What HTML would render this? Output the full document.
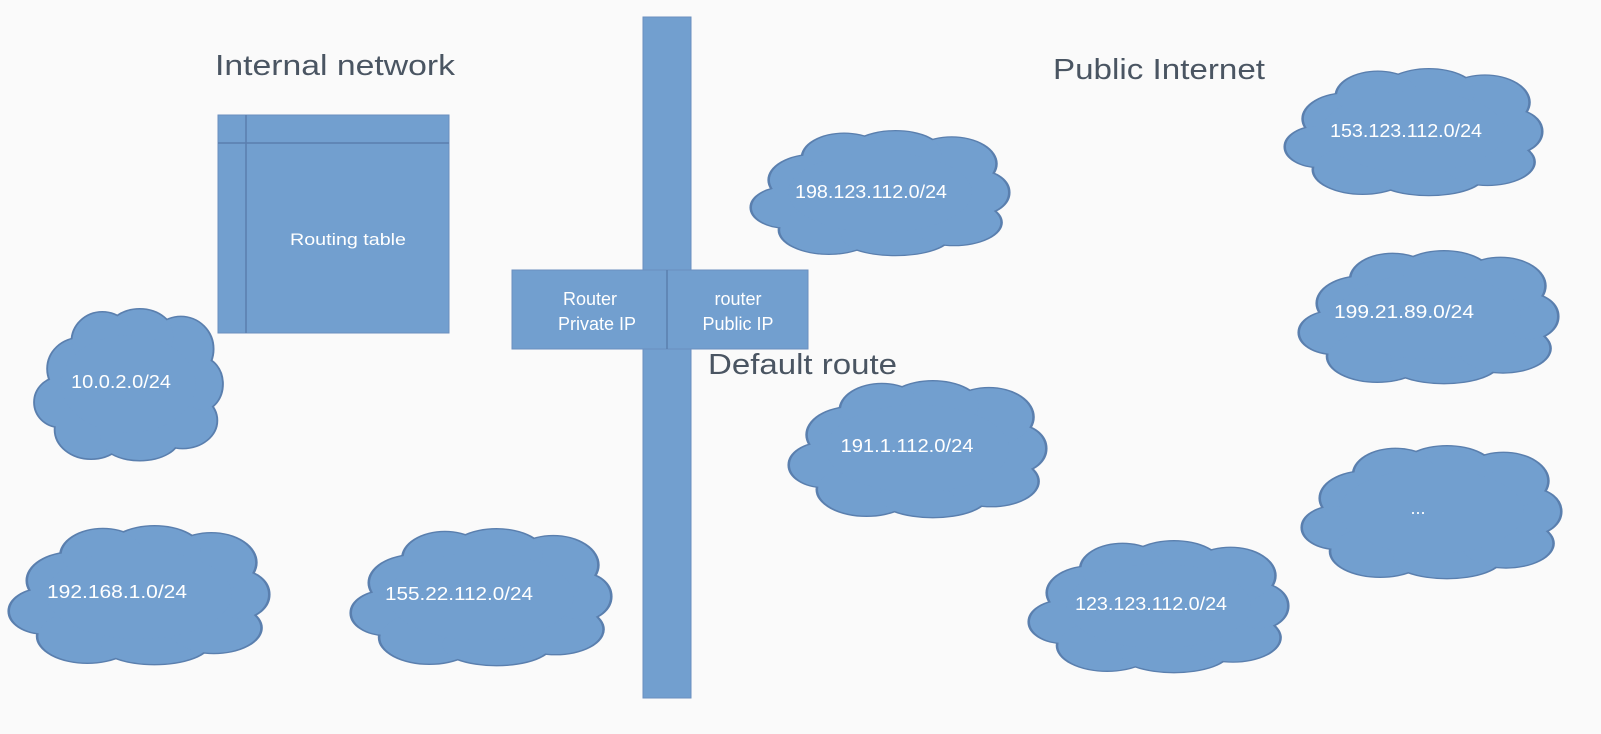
<!DOCTYPE html>
<html><head><meta charset="utf-8"><style>
html,body{margin:0;padding:0;background:#fafafa;}
svg{display:block;}
text{font-family:"Liberation Sans",sans-serif;}
</style></head><body>
<svg width="1601" height="734" viewBox="0 0 1601 734" xmlns="http://www.w3.org/2000/svg">
<defs>
<g id="cs">
<ellipse cx="24" cy="40" rx="17" ry="20"/>
<ellipse cx="13" cy="62" rx="13" ry="16"/>
<ellipse cx="30" cy="80" rx="19" ry="19"/>
<ellipse cx="56" cy="85" rx="21" ry="15"/>
<ellipse cx="79" cy="74" rx="18" ry="18"/>
<ellipse cx="89" cy="50" rx="11" ry="17"/>
<ellipse cx="78" cy="27" rx="17" ry="21"/>
<ellipse cx="56" cy="19" rx="18" ry="18"/>
<ellipse cx="36" cy="22" rx="16" ry="19"/>
<ellipse cx="50" cy="50" rx="36" ry="32"/>
</g>
<g id="cloud">
<use href="#cs" fill="none" stroke="#5a7fae" stroke-width="2" vector-effect="non-scaling-stroke"/>
<use href="#cs" fill="#729fcf" stroke="none"/>
</g>
</defs>
<rect width="1601" height="734" fill="#fafafa"/>
<text x="215" y="75" font-size="29" fill="#4a5562" textLength="240" lengthAdjust="spacingAndGlyphs">Internal network</text>
<text x="1053" y="79" font-size="29" fill="#4a5562" textLength="212" lengthAdjust="spacingAndGlyphs">Public Internet</text>
<rect x="218" y="115" width="231" height="218" fill="#729fcf" stroke="#6b8fbf" stroke-width="1"/>
<line x1="246" y1="115" x2="246" y2="333" stroke="#5a7fae" stroke-width="1.5"/>
<line x1="218" y1="143" x2="449" y2="143" stroke="#5a7fae" stroke-width="1.5"/>
<text x="290" y="245" font-size="17" fill="#fff" textLength="116" lengthAdjust="spacingAndGlyphs">Routing table</text>
<rect x="643" y="17" width="48" height="681" fill="#729fcf" stroke="#6b8fbf" stroke-width="1"/>
<rect x="512" y="270" width="296" height="79" fill="#729fcf" stroke="#6b8fbf" stroke-width="1"/>
<line x1="667" y1="270" x2="667" y2="349" stroke="#5a7fae" stroke-width="1.5"/>
<text x="590" y="305" font-size="18" fill="#fff" text-anchor="middle">Router</text>
<text x="597" y="330" font-size="18" fill="#fff" text-anchor="middle">Private IP</text>
<text x="738" y="305" font-size="18" fill="#fff" text-anchor="middle">router</text>
<text x="738" y="330" font-size="18" fill="#fff" text-anchor="middle">Public IP</text>
<text x="708" y="374" font-size="29" fill="#4a5562" textLength="189" lengthAdjust="spacingAndGlyphs">Default route</text>
<g font-size="18" fill="#fff" text-anchor="middle">
<g transform="translate(752,130) scale(2.56,1.25)"><use href="#cloud"/></g>
<text x="871" y="198" textLength="152" lengthAdjust="spacingAndGlyphs">198.123.112.0/24</text>
<g transform="translate(1286,68) scale(2.55,1.27)"><use href="#cloud"/></g>
<text x="1406" y="137" textLength="152" lengthAdjust="spacingAndGlyphs">153.123.112.0/24</text>
<g transform="translate(1300,250) scale(2.57,1.33)"><use href="#cloud"/></g>
<text x="1404" y="318" textLength="140" lengthAdjust="spacingAndGlyphs">199.21.89.0/24</text>
<g transform="translate(1303,445) scale(2.57,1.33)"><use href="#cloud"/></g>
<text x="1418" y="514">...</text>
<g transform="translate(790,380) scale(2.55,1.37)"><use href="#cloud"/></g>
<text x="907" y="452" textLength="133" lengthAdjust="spacingAndGlyphs">191.1.112.0/24</text>
<g transform="translate(1030,540) scale(2.57,1.32)"><use href="#cloud"/></g>
<text x="1151" y="610" textLength="152" lengthAdjust="spacingAndGlyphs">123.123.112.0/24</text>
<g transform="translate(35,308) scale(1.87,1.52)"><use href="#cloud"/></g>
<text x="121" y="388" textLength="100" lengthAdjust="spacingAndGlyphs">10.0.2.0/24</text>
<g transform="translate(10,525) scale(2.58,1.39)"><use href="#cloud"/></g>
<text x="117" y="598" textLength="140" lengthAdjust="spacingAndGlyphs">192.168.1.0/24</text>
<g transform="translate(352,528) scale(2.58,1.37)"><use href="#cloud"/></g>
<text x="459" y="600" textLength="148" lengthAdjust="spacingAndGlyphs">155.22.112.0/24</text>
</g>
</svg>
</body></html>
